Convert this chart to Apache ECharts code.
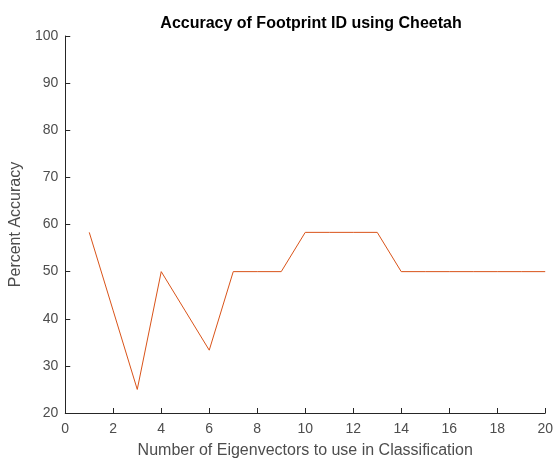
<!DOCTYPE html>
<html>
<head>
<meta charset="utf-8">
<script src="https://cdn.jsdelivr.net/npm/echarts@6/dist/echarts.min.js"></script>
<style>
  html, body { margin: 0; padding: 0; background: #fff; }
  #chart { width: 556px; height: 464px; }
</style>
</head>
<body>
<div id="chart"></div>
<script>
  // eigenvector count vs accuracy (%)
  var eigenCounts = [1, 2, 3, 4, 5, 6, 7, 8, 9, 10, 11, 12, 13, 14, 15, 16, 17, 18, 19, 20]
  var accuracy = [58.33, 41.67, 25, 50, 41.67, 33.33, 50, 50, 50, 58.33, 58.33, 58.33, 58.33, 50, 50, 50, 50, 50, 50, 50]

  var axisColor = '#262626'
  var labelColor = '#4d4d4d'
  var font = 'Liberation Sans, Arial, sans-serif'

  var chart = echarts.init(document.getElementById('chart'))
  chart.setOption({
    animation: false,
    title: {
      text: 'Accuracy of Footprint ID using Cheetah',
      left: 306,
      textAlign: 'center',
      top: 11,
      textStyle: { fontSize: 16, fontWeight: 'bold', color: '#000', fontFamily: font }
    },
    grid: { left: 64, right: 8, top: 36, bottom: 46 },
    xAxis: {
      type: 'value',
      min: 0,
      max: 20,
      interval: 2,
      name: 'Number of Eigenvectors to use in Classification',
      nameLocation: 'middle',
      nameGap: 30,
      nameTextStyle: { fontSize: 16, color: labelColor, fontFamily: font },
      axisLine: { lineStyle: { color: axisColor } },
      axisTick: { inside: true, length: 5, lineStyle: { color: axisColor } },
      axisLabel: { fontSize: 14, color: labelColor, fontFamily: font, margin: 9 },
      splitLine: { show: false }
    },
    yAxis: {
      type: 'value',
      min: 20,
      max: 100,
      interval: 10,
      name: 'Percent Accuracy',
      nameLocation: 'middle',
      nameGap: 33,
      nameTextStyle: { fontSize: 16, color: labelColor, fontFamily: font },
      axisLine: { show: true, lineStyle: { color: axisColor } },
      axisTick: { show: true, inside: true, length: 5, lineStyle: { color: axisColor } },
      axisLabel: { fontSize: 14, color: labelColor, fontFamily: font, margin: 7 },
      splitLine: { show: false }
    },
    series: [
      {
        type: 'line',
        data: eigenCounts.map(function (x, i) { return [x, accuracy[i]] }),
        showSymbol: false,
        lineStyle: { color: '#D95319', width: 1 },
        itemStyle: { color: '#D95319' }
      }
    ]
  })
</script>
</body>
</html>
